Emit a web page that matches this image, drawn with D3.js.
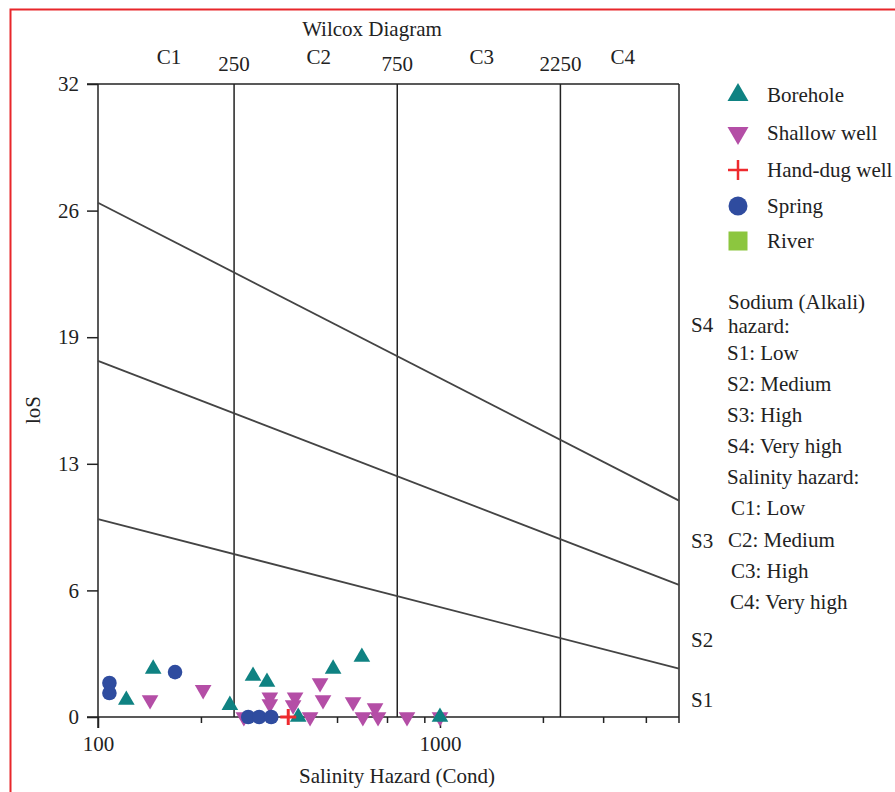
<!DOCTYPE html>
<html>
<head>
<meta charset="utf-8">
<script src="https://cdn.jsdelivr.net/npm/d3@7"></script>
<style>
  body { margin: 0; background: #fff; }
  svg text { font-family: "Liberation Serif", "DejaVu Serif", serif; fill: #222; }
</style>
</head>
<body>
<div id="chart"></div>
<script>
const width = 895, height = 792;
const fs = 21;

// Sample values: [conductivity, SAR]
const borehole = [[121, 0.86], [145, 2.43], [243, 0.6], [284, 2.07], [312, 1.77], [487, 2.43], [591, 3.03], [385, 0], [1000, 0]];
const shallowWell = [[142, 0.86], [203, 1.37], [267, 0], [318, 1.0], [318, 0.66], [377, 1.0], [372, 0.6], [417, 0], [446, 1.72], [455, 0.86], [557, 0.76], [595, 0], [646, 0.45], [659, 0], [801, 0], [1000, 0]];
const handDugWell = [[360, 0]];
const spring = [[108, 1.72], [108, 1.21], [168, 2.27], [275, 0], [296, 0], [321, 0]];
const river = [];

// Class boundaries
const salinityBounds = [250, 750, 2250];
const salinityClasses = ["C1", "C2", "C3", "C4"];
const sodiumLines = [
    [[100, 10.0], [5000, 2.45]],
    [[100, 18.0], [5000, 6.68]],
    [[100, 26.0], [5000, 10.94]]
];

const yTicks = [0, 6.4, 12.8, 19.2, 25.6, 32];
const xMinorTicks = [200, 500, 700, 900, 2000, 3000, 4000];
const xLabelTicks = [100, 1000];

const legendItems = ["Borehole", "Shallow well", "Hand-dug well", "Spring", "River"];
const notes = ["Sodium (Alkali)", "hazard:", "S1: Low", "S2: Medium", "S3: High", "S4: Very high",
               "Salinity hazard:", "C1: Low", "C2: Medium", "C3: High", "C4: Very high"];

const colors = {teal: "#0f8282", pink: "#b44ea6", red: "#ee2a2e", blue: "#2f4c9f", green: "#8cc63f"};

const svg = d3.select("#chart").append("svg")
    .attr("width", width)
    .attr("height", height);

// red frame
svg.append("rect")
    .attr("x", 10.5).attr("y", 9.5)
    .attr("width", 900).attr("height", 900)
    .attr("fill", "none")
    .attr("stroke", "#e8262b")
    .attr("stroke-width", 2);

const x = d3.scaleLog().domain([100, 5000]).range([98, 679]);
const y = d3.scaleLinear().domain([0, 32]).range([717, 84]);

// frame lines
const frame = svg.append("g").attr("stroke", "#222").attr("stroke-width", 1.5);
frame.append("line").attr("x1", 87).attr("x2", x(5000)).attr("y1", y(32)).attr("y2", y(32));
frame.append("line").attr("x1", x(5000)).attr("x2", x(5000)).attr("y1", y(32)).attr("y2", y(0) + 6);
frame.append("line").attr("x1", x(100)).attr("x2", x(100)).attr("y1", y(32)).attr("y2", y(0) + 11);
frame.append("line").attr("x1", 87).attr("x2", x(5000)).attr("y1", y(0)).attr("y2", y(0));

// y axis ticks
svg.append("g")
    .attr("transform", `translate(${x(100)},0)`)
    .call(d3.axisLeft(y).tickValues(yTicks).tickFormat(d3.format(".0f")).tickSize(11).tickPadding(8))
    .call(g => g.select(".domain").remove())
    .call(g => g.selectAll("line").attr("stroke", "#222").attr("stroke-width", 1.5))
    .call(g => g.selectAll("text").attr("font-size", fs).attr("font-family", "Liberation Serif").attr("fill", "#222"));

// x axis minor ticks
svg.append("g")
    .attr("transform", `translate(0,${y(0)})`)
    .call(d3.axisBottom(x).tickValues(xMinorTicks).tickFormat("").tickSize(6))
    .call(g => g.select(".domain").remove())
    .call(g => g.selectAll("line").attr("stroke", "#222").attr("stroke-width", 1.5));

svg.append("g")
    .attr("transform", `translate(0,${y(0)})`)
    .call(d3.axisBottom(x).tickValues(xLabelTicks).tickFormat(d3.format("d")).tickSize(11).tickPadding(8))
    .call(g => g.select(".domain").remove())
    .call(g => g.selectAll("line").attr("stroke", "#222").attr("stroke-width", 1.5))
    .call(g => g.selectAll("text").attr("font-size", fs).attr("font-family", "Liberation Serif").attr("fill", "#222"));

// salinity class boundaries
svg.append("g").selectAll("line")
    .data(salinityBounds)
    .join("line")
    .attr("x1", d => x(d)).attr("x2", d => x(d))
    .attr("y1", y(32)).attr("y2", y(0))
    .attr("stroke", "#222")
    .attr("stroke-width", 1.5);

svg.append("g").selectAll("text")
    .data(salinityBounds)
    .join("text")
    .attr("x", d => x(d))
    .attr("y", 71)
    .attr("text-anchor", "middle")
    .attr("font-size", fs)
    .text(d => d);

const classEdges = [100, ...salinityBounds, 5000];
svg.append("g").selectAll("text")
    .data(salinityClasses)
    .join("text")
    .attr("x", (d, i) => (x(classEdges[i]) + x(classEdges[i + 1])) / 2 + 3)
    .attr("y", 64)
    .attr("text-anchor", "middle")
    .attr("font-size", fs)
    .text(d => d);

// sodium hazard boundaries
const line = d3.line().x(d => x(d[0])).y(d => y(d[1]));
svg.append("g").selectAll("path")
    .data(sodiumLines)
    .join("path")
    .attr("d", line)
    .attr("fill", "none")
    .attr("stroke", "#444")
    .attr("stroke-width", 1.8);

// titles
svg.append("text").attr("x", 372).attr("y", 36).attr("text-anchor", "middle")
    .attr("font-size", fs).text("Wilcox Diagram");
svg.append("text").attr("x", 397).attr("y", 783).attr("text-anchor", "middle")
    .attr("font-size", fs).text("Salinity Hazard (Cond)");
svg.append("text").attr("transform", "translate(40,410) rotate(-90)").attr("text-anchor", "middle")
    .attr("font-size", fs).text("loS");

// S labels at right of the plot
const sLabels = [["S1", 0.86], ["S2", 3.9], ["S3", 8.9], ["S4", 19.8]];
svg.append("g").selectAll("text")
    .data(sLabels)
    .join("text")
    .attr("x", 691)
    .attr("y", d => y(d[1]) + 7)
    .attr("font-size", fs)
    .text(d => d[0]);

// markers
const triUp = d3.symbol().type(d3.symbolTriangle);

const pts = svg.append("g");
pts.selectAll(".sw")
    .data(shallowWell)
    .join("path")
    .attr("transform", d => `translate(${x(d[0])},${y(d[1])}) rotate(180)`)
    .attr("d", triUp.size(120)())
    .attr("fill", colors.pink);
pts.selectAll(".bh")
    .data(borehole)
    .join("path")
    .attr("transform", d => `translate(${x(d[0])},${y(d[1])})`)
    .attr("d", triUp.size(120)())
    .attr("fill", colors.teal);
pts.selectAll(".sp")
    .data(spring)
    .join("circle")
    .attr("cx", d => x(d[0]))
    .attr("cy", d => y(d[1]))
    .attr("r", 7.3)
    .attr("fill", colors.blue);
pts.selectAll(".hd")
    .data(handDugWell)
    .join("g")
    .attr("transform", d => `translate(${x(d[0])},${y(d[1])})`)
    .call(g => {
        g.append("line").attr("x1", -8).attr("x2", 8).attr("stroke", colors.red).attr("stroke-width", 3);
        g.append("line").attr("y1", -8).attr("y2", 8).attr("stroke", colors.red).attr("stroke-width", 3);
    });
pts.selectAll(".rv")
    .data(river)
    .join("rect")
    .attr("x", d => x(d[0]) - 7).attr("y", d => y(d[1]) - 7)
    .attr("width", 14).attr("height", 14)
    .attr("fill", colors.green);

// legend
const legendY = [95, 133, 170, 206, 241];
const legend = svg.append("g");
legendItems.forEach((name, i) => {
    const g = legend.append("g").attr("transform", `translate(738,${legendY[i]})`);
    if (i === 0) g.append("path").attr("d", triUp.size(190)()).attr("fill", colors.teal);
    if (i === 1) g.append("path").attr("d", triUp.size(190)()).attr("transform", "rotate(180)").attr("fill", colors.pink);
    if (i === 2) {
        g.append("line").attr("x1", -10).attr("x2", 10).attr("stroke", colors.red).attr("stroke-width", 2.5);
        g.append("line").attr("y1", -10).attr("y2", 10).attr("stroke", colors.red).attr("stroke-width", 2.5);
    }
    if (i === 3) g.append("circle").attr("r", 9.5).attr("fill", colors.blue);
    if (i === 4) g.append("rect").attr("x", -9.5).attr("y", -9.5).attr("width", 19).attr("height", 19).attr("fill", colors.green);
    g.append("text").attr("x", 29).attr("y", 7).attr("font-size", fs).text(name);
});

// hazard notes
const notesY = [309, 333, 360, 391, 422, 453, 484, 515, 547, 578, 609];
const notesX = [728, 728, 727, 727, 727, 727, 727, 731, 728, 731, 730];
svg.append("g").selectAll("text")
    .data(notes)
    .join("text")
    .attr("x", (d, i) => notesX[i])
    .attr("y", (d, i) => notesY[i])
    .attr("font-size", fs)
    .text(d => d);
</script>
</body>
</html>
